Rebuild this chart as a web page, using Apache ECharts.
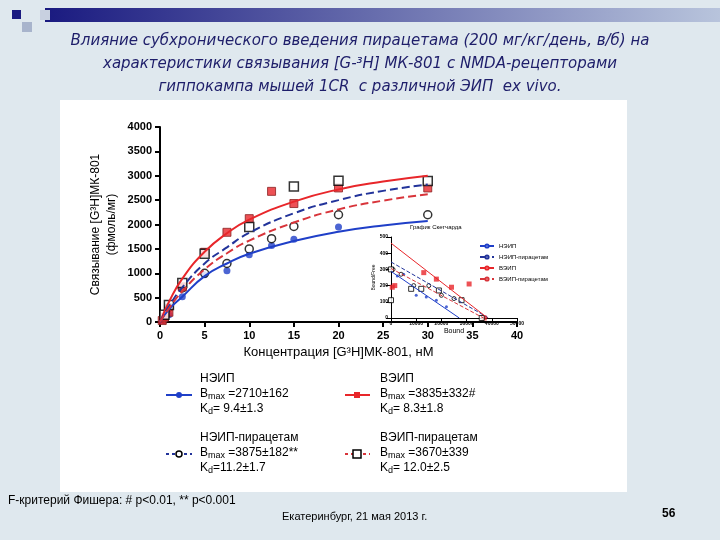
<!DOCTYPE html>
<html>
<head>
<meta charset="utf-8">
<script src="https://cdn.jsdelivr.net/npm/echarts@6/dist/echarts.min.js"></script>
<style>
html,body{margin:0;padding:0;}
#chart{width:720px;height:540px;}
</style>
</head>
<body>
<div id="chart"></div>
<script>
// кривые насыщения
var curveX = [0, 1, 2.5, 5, 7.5, 10, 15, 20, 25, 30];
var curveNeip = [0, 260, 520, 940, 1200, 1400, 1660, 1850, 1980, 2070];
var curveVeip = [0, 410, 890, 1440, 1820, 2100, 2470, 2720, 2880, 3000];
var curveNeipPir = [0, 320, 710, 1200, 1530, 1830, 2230, 2500, 2690, 2820];
var curveVeipPir = [0, 280, 630, 1080, 1410, 1670, 2040, 2310, 2490, 2620];

// экспериментальные точки
var ptsNeip = [[0.25,30],[0.5,80],[1,150],[2.5,520],[5,970],[7.5,1050],[10,1380],[12.5,1570],[15,1700],[20,1950]];
var ptsNeipPir = [[0.5,60],[1,300],[2.5,700],[5,1000],[7.5,1200],[10,1500],[12.5,1710],[15,1960],[20,2200],[30,2200]];
var ptsVeip = [[0.25,30],[0.5,100],[1,200],[2.5,720],[5,1430],[7.5,1840],[10,2120],[12.5,2680],[15,2430],[20,2750],[30,2750]];
var ptsVeipPir = [[0.5,150],[1,350],[2.5,800],[5,1400],[10,1950],[15,2780],[20,2900],[30,2890]];

// график Скетчарда
var scNeipLine = [[0,288],[27100,0]];
var scVeipLine = [[0,462],[38350,0]];
var scNeipPirLine = [[0,346],[38750,0]];
var scVeipPirLine = [[0,306],[36700,0]];
var scNeip = [[2500,260],[5000,270],[10000,140],[14000,130],[18000,110],[22000,70]];
var scNeipPir = [[800,300],[4000,270],[9000,200],[15000,200],[20000,140],[25000,120]];
var scVeip = [[500,190],[1500,200],[13000,280],[18000,240],[24000,190],[31000,210],[37000,0]];
var scVeipPir = [[0,300],[0,110],[8000,180],[12000,180],[19000,170],[28000,110],[36000,0]];

var blue = '#1f3fc8', red = '#e8262a', dblue = '#22339a', dred = '#d8343a';

function curve(xs, ys){ return xs.map(function(x,i){return [x, ys[i]];}); }
function plain(v){ return String(v); }

var myChart = echarts.init(document.getElementById('chart'));
var sub = {s:{fontSize:9,verticalAlign:'bottom',fontFamily:'Liberation Sans'}};
var option = {
	backgroundColor: '#dfe8ee',
	animation: false,
	grid: [
		{left:160, right:203, top:127, bottom:218},
		{left:391, right:203, top:237, bottom:222}
	],
	xAxis: [{
		gridIndex:0, type:'value', min:0, max:40, interval:5,
		axisLine:{lineStyle:{color:'#000',width:2}}, axisTick:{lineStyle:{width:2}},
		splitLine:{show:false},
		axisLabel:{color:'#000',fontWeight:'bold',fontSize:11,fontFamily:'Liberation Sans'},
		name:'Концентрация [G³H]МК-801, нМ', nameLocation:'middle', nameGap:24,
		nameTextStyle:{color:'#000',fontSize:13,fontFamily:'Liberation Sans'}
	},{
		gridIndex:1, type:'value', min:0, max:50000, interval:10000,
		axisLine:{lineStyle:{color:'#000'}}, splitLine:{show:false},
		axisLabel:{color:'#000',fontSize:5,fontWeight:'bold',formatter:plain,margin:3},
		name:'Bound', nameLocation:'middle', nameGap:10, nameTextStyle:{fontSize:7}
	}],
	yAxis: [{
		gridIndex:0, type:'value', min:0, max:4000, interval:500,
		axisLine:{show:true,lineStyle:{color:'#000',width:2}}, axisTick:{show:true,lineStyle:{width:2}},
		splitLine:{show:false},
		axisLabel:{color:'#000',fontWeight:'bold',fontSize:11,fontFamily:'Liberation Sans',formatter:plain},
		name:'Связывание [G³H]МК-801\n(фмоль/мг)', nameLocation:'middle', nameGap:40,
		nameTextStyle:{color:'#000',fontSize:12,fontFamily:'Liberation Sans',lineHeight:16}
	},{
		gridIndex:1, type:'value', min:0, max:500, interval:100,
		axisLine:{show:true,lineStyle:{color:'#000'}}, axisTick:{show:true},
		splitLine:{show:false},
		axisLabel:{color:'#000',fontSize:5,fontWeight:'bold',margin:3},
		name:'Bound/Free', nameLocation:'middle', nameGap:14, nameTextStyle:{fontSize:5}
	}],
	legend: {
		data:['НЭИП','НЭИП-пирацетам','ВЭИП','ВЭИП-пирацетам'],
		left:474, top:238, orient:'vertical', itemWidth:14, itemHeight:4, itemGap:5,
		textStyle:{fontSize:6,color:'#000'}
	},
	series: [
		{type:'line',data:curve(curveX,curveNeip),smooth:true,showSymbol:false,lineStyle:{color:blue,width:2}},
		{type:'line',data:curve(curveX,curveVeip),smooth:true,showSymbol:false,lineStyle:{color:red,width:2}},
		{type:'line',data:curve(curveX,curveNeipPir),smooth:true,showSymbol:false,lineStyle:{color:dblue,width:2,type:'dashed'}},
		{type:'line',data:curve(curveX,curveVeipPir),smooth:true,showSymbol:false,lineStyle:{color:dred,width:2,type:'dashed'}},
		{type:'scatter',data:ptsNeip,symbol:'circle',symbolSize:7,itemStyle:{color:blue}},
		{type:'scatter',data:ptsNeipPir,symbol:'circle',symbolSize:8,itemStyle:{color:'#fff',borderColor:'#000',borderWidth:1.5}},
		{type:'scatter',data:ptsVeip,symbol:'rect',symbolSize:8,itemStyle:{color:red,borderColor:'#8a2020',borderWidth:1}},
		{type:'scatter',data:ptsVeipPir,symbol:'rect',symbolSize:9,itemStyle:{color:'#fff',borderColor:'#000',borderWidth:1.5}},

		{type:'line',name:'НЭИП',xAxisIndex:1,yAxisIndex:1,data:scNeipLine,showSymbol:false,lineStyle:{color:blue,width:1},itemStyle:{color:blue}},
		{type:'line',name:'НЭИП-пирацетам',xAxisIndex:1,yAxisIndex:1,data:scNeipPirLine,showSymbol:false,lineStyle:{color:dblue,width:1,type:'dashed'},itemStyle:{color:dblue}},
		{type:'line',name:'ВЭИП',xAxisIndex:1,yAxisIndex:1,data:scVeipLine,showSymbol:false,lineStyle:{color:red,width:1},itemStyle:{color:red}},
		{type:'line',name:'ВЭИП-пирацетам',xAxisIndex:1,yAxisIndex:1,data:scVeipPirLine,showSymbol:false,lineStyle:{color:dred,width:1,type:'dashed'},itemStyle:{color:dred}},
		{type:'scatter',xAxisIndex:1,yAxisIndex:1,data:scNeip,symbolSize:3,itemStyle:{color:blue}},
		{type:'scatter',xAxisIndex:1,yAxisIndex:1,data:scNeipPir,symbolSize:4,itemStyle:{color:'#fff',borderColor:'#000'}},
		{type:'scatter',xAxisIndex:1,yAxisIndex:1,data:scVeip,symbol:'rect',symbolSize:5,itemStyle:{color:red}},
		{type:'scatter',xAxisIndex:1,yAxisIndex:1,data:scVeipPir,symbol:'rect',symbolSize:5,itemStyle:{color:'#fff',borderColor:'#000'}}
	],
	graphic: [
		{type:'rect',z:-10,shape:{x:60,y:100,width:567,height:392},style:{fill:'#fff'}},
		{type:'rect',shape:{x:45,y:8,width:675,height:14},style:{fill:new echarts.graphic.LinearGradient(0,0,1,0,[{offset:0,color:'#1a1a80'},{offset:1,color:'#b8c4dc'}])}},
		{type:'rect',shape:{x:12,y:10,width:9,height:9},style:{fill:'#1a1a80'}},
		{type:'rect',shape:{x:22,y:22,width:10,height:10},style:{fill:'#a8b4cc'}},
		{type:'rect',shape:{x:40,y:10,width:10,height:10},style:{fill:'#c8d0e0'}},
		{type:'text',left:'center',top:30,style:{text:'Влияние субхронического введения пирацетама (200 мг/кг/день, в/б) на\nхарактеристики связывания [G-³H] МК-801 с NMDA-рецепторами\nгиппокампа мышей 1CR  с различной ЭИП  ex vivo.',
			fill:'#1e1e6a',font:'italic 15px "DejaVu Sans"',textAlign:'center',lineHeight:23}},
		{type:'text',left:410,top:224,style:{text:'График Скетчарда',font:'6px sans-serif',fill:'#000'}},

		{type:'line',shape:{x1:166,y1:395,x2:192,y2:395},style:{stroke:blue,lineWidth:2}},
		{type:'circle',shape:{cx:179,cy:395,r:3},style:{fill:blue}},
		{type:'text',left:200,top:371,style:{rich:sub,text:'НЭИП\nB{s|max} =2710±162\nK{s|d}= 9.4±1.3',font:'12px "Liberation Sans"',fill:'#000',lineHeight:15}},
		{type:'line',shape:{x1:345,y1:395,x2:370,y2:395},style:{stroke:red,lineWidth:2}},
		{type:'rect',shape:{x:354,y:392,width:6,height:6},style:{fill:red}},
		{type:'text',left:380,top:371,style:{rich:sub,text:'ВЭИП\nB{s|max} =3835±332#\nK{s|d}= 8.3±1.8',font:'12px "Liberation Sans"',fill:'#000',lineHeight:15}},
		{type:'line',shape:{x1:166,y1:454,x2:192,y2:454},style:{stroke:dblue,lineWidth:2,lineDash:[3,3]}},
		{type:'circle',shape:{cx:179,cy:454,r:3},style:{fill:'#fff',stroke:'#000',lineWidth:1.5}},
		{type:'text',left:200,top:430,style:{rich:sub,text:'НЭИП-пирацетам\nB{s|max} =3875±182**\nK{s|d}=11.2±1.7',font:'12px "Liberation Sans"',fill:'#000',lineHeight:15}},
		{type:'line',shape:{x1:345,y1:454,x2:370,y2:454},style:{stroke:dred,lineWidth:2,lineDash:[3,3]}},
		{type:'rect',shape:{x:353,y:450,width:8,height:8},style:{fill:'#fff',stroke:'#000',lineWidth:1.5}},
		{type:'text',left:380,top:430,style:{rich:sub,text:'ВЭИП-пирацетам\nB{s|max} =3670±339\nK{s|d}= 12.0±2.5',font:'12px "Liberation Sans"',fill:'#000',lineHeight:15}},

		{type:'text',left:8,top:495,style:{text:'F-критерий Фишера: # p<0.01, ** p<0.001',font:'12px "Liberation Sans"',fill:'#000'}},
		{type:'text',left:282,top:511,style:{text:'Екатеринбург, 21 мая 2013 г.',font:'11px "Liberation Sans"',fill:'#000'}},
		{type:'text',left:662,top:508,style:{text:'56',font:'bold 12px "Liberation Sans"',fill:'#000'}}
	]
};
myChart.setOption(option);
</script>
</body>
</html>
